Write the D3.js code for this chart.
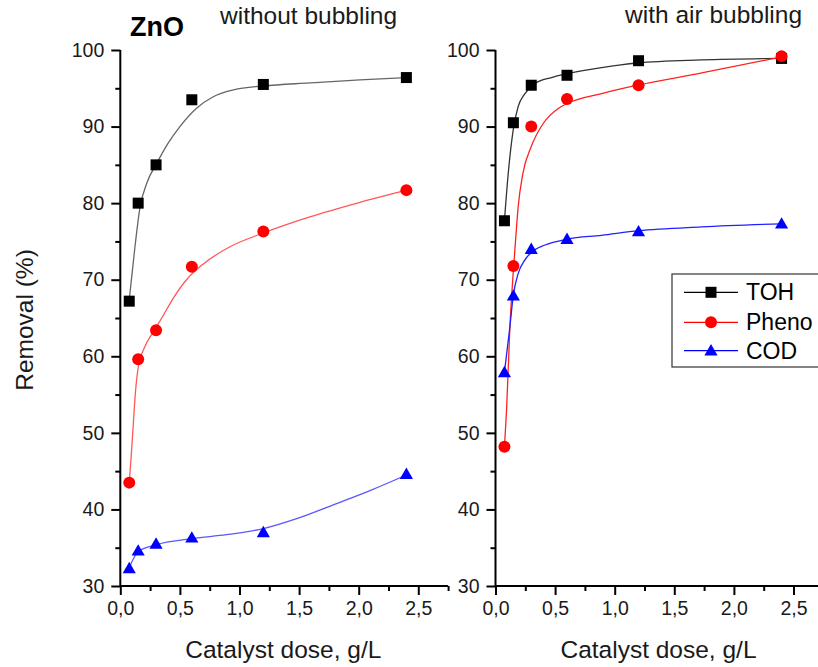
<!DOCTYPE html>
<html><head><meta charset="utf-8">
<script src="https://cdn.jsdelivr.net/npm/d3@7"></script>
<style>body{margin:0;background:#fff}svg{display:block;font-family:"Liberation Sans",Arial,sans-serif}</style>
</head><body><div id="c"></div>
<script>
const doses = [0.075, 0.15, 0.3, 0.6, 1.2, 2.4];
const tohNoBubble = [67.2, 80.0, 85.0, 93.5, 95.5, 96.4];
const phenoNoBubble = [43.5, 59.6, 63.4, 71.7, 76.3, 81.7];
const codNoBubble = [32.3, 34.6, 35.5, 36.3, 37.0, 44.6];
const tohAir = [77.7, 90.5, 95.4, 96.7, 98.6, 98.9];
const phenoAir = [48.2, 71.8, 90.0, 93.6, 95.4, 99.2];
const codAir = [57.9, 67.9, 74.0, 75.3, 76.3, 77.3];

// fitted curves: [dose, removal]
const fitTohNoBubble = [[0.075,67.4],[0.123,74.3],[0.166,79.5],[0.222,82.6],[0.306,85.2],[0.40,87.8],[0.50,90.0],[0.64,92.4],[0.78,93.9],[0.95,94.8],[1.20,95.3],[1.59,95.7],[2.01,96.1],[2.4,96.4]];
const fitPhenoNoBubble = [[0.075,43.5],[0.087,46.0],[0.104,49.9],[0.124,54.7],[0.151,58.6],[0.208,61.3],[0.277,63.2],[0.348,65.0],[0.445,67.6],[0.55,69.9],[0.70,72.1],[0.92,74.3],[1.20,76.1],[1.59,78.2],[2.01,80.1],[2.4,81.7]];
const fitCodNoBubble = [[0.075,32.4],[0.151,34.5],[0.306,35.4],[0.61,36.2],[0.89,36.7],[1.20,37.5],[1.48,38.8],[1.82,40.8],[2.10,42.5],[2.4,44.5]];
const fitTohAir = [[0.075,77.7],[0.107,83.9],[0.149,89.6],[0.19,92.6],[0.247,94.3],[0.33,95.6],[0.47,96.4],[0.6,96.9],[0.89,97.7],[1.19,98.3],[1.73,98.7],[2.4,98.9]];
const fitPhenoAir = [[0.075,48.2],[0.094,53.4],[0.121,63.9],[0.149,71.0],[0.17,75.5],[0.19,79.5],[0.23,83.9],[0.30,87.4],[0.40,90.4],[0.53,92.4],[0.60,93.0],[0.89,94.3],[1.19,95.4],[1.73,97.0],[2.4,99.1]];
const fitCodAir = [[0.075,57.9],[0.121,63.9],[0.15,68.0],[0.19,70.8],[0.247,72.6],[0.33,73.9],[0.41,74.5],[0.6,75.3],[0.89,75.8],[1.2,76.4],[1.73,76.9],[2.4,77.3]];

const xTicks = [0, 0.5, 1.0, 1.5, 2.0, 2.5];
const yTicks = [30, 40, 50, 60, 70, 80, 90, 100];
const seriesNames = ["TOH", "Pheno", "COD"];
const seriesColors = ["#000000", "#ff0000", "#0000ff"];
const lineColors = ["#333333", "#ff2020", "#2020ff"];
const panelTitles = ["without bubbling", "with air bubbling"];

const W = 818, H = 667;
const svg = d3.select("#c").append("svg").attr("width", W).attr("height", H);
const y = d3.scaleLinear().domain([30, 100]).range([586, 50]);

const panels = [
  {x0: 120.3, vals: [tohNoBubble, phenoNoBubble, codNoBubble], fits: [fitTohNoBubble, fitPhenoNoBubble, fitCodNoBubble], lineOpacity: 0.75},
  {x0: 495.5, vals: [tohAir, phenoAir, codAir], fits: [fitTohAir, fitPhenoAir, fitCodAir], lineOpacity: 1}
];

const fmt = d => d3.format(".1f")(d).replace(".", ",");

function marker(g, type, cx, cy, color) {
  if (type === 0) {
    g.append("rect").attr("x", cx - 5.5).attr("y", cy - 5.5).attr("width", 11).attr("height", 11).attr("fill", color);
  } else if (type === 1) {
    g.append("circle").attr("cx", cx).attr("cy", cy).attr("r", 6).attr("fill", color);
  } else {
    const s = d3.symbol().type(d3.symbolTriangle).size(75);
    g.append("path").attr("d", s()).attr("transform", `translate(${cx},${cy + 1})`).attr("fill", color);
  }
}

panels.forEach((p, pi) => {
  const x = d3.scaleLinear().domain([0, 2.75]).range([p.x0, p.x0 + 2.75 * 119.2]);
  const g = svg.append("g");

  // axes
  const xAxis = d3.axisBottom(x).tickValues(xTicks).tickFormat(fmt).tickSize(9).tickPadding(6);
  const xg = g.append("g").attr("transform", `translate(0,${y(30)})`).call(xAxis);
  const xMinor = d3.axisBottom(x).tickValues(d3.range(0.25, 2.76, 0.5)).tickFormat("").tickSize(5);
  g.append("g").attr("transform", `translate(0,${y(30)})`).call(xMinor).select(".domain").remove();

  const yAxis = d3.axisLeft(y).tickValues(yTicks).tickSize(9).tickPadding(7);
  const yg = g.append("g").attr("transform", `translate(${x(0)},0)`).call(yAxis);
  const yMinor = d3.axisLeft(y).tickValues(d3.range(35, 100, 10)).tickFormat("").tickSize(5);
  g.append("g").attr("transform", `translate(${x(0)},0)`).call(yMinor).select(".domain").remove();

  g.selectAll(".domain").attr("stroke", "#000").attr("stroke-width", 2);
  g.selectAll(".tick line").attr("stroke", "#000").attr("stroke-width", 2);
  g.selectAll(".tick text").attr("font-size", 19.5).attr("fill", "#1a1a1a").attr("font-family", "Liberation Sans, Arial, sans-serif");
  xg.select(".domain").attr("d", `M${x(0)},0H${x(2.75)}`);
  yg.select(".domain").attr("d", `M0,${y(100)}V${y(30)}`);

  // axis title
  g.append("text").attr("x", (x(0) + x(2.5)) / 2 + 14).attr("y", 658).attr("text-anchor", "middle")
    .attr("font-size", 24.5).attr("fill", "#1a1a1a").text("Catalyst dose, g/L");

  // fitted curves
  const line = d3.line().x(d => x(d[0])).y(d => y(d[1])).curve(d3.curveMonotoneX);
  p.fits.forEach((f, si) => {
    g.append("path").attr("d", line(f)).attr("fill", "none")
      .attr("stroke", lineColors[si]).attr("stroke-width", 1.3).attr("stroke-opacity", p.lineOpacity);
  });

  // markers
  p.vals.forEach((vals, si) => {
    vals.forEach((v, i) => marker(g, si, x(doses[i]), y(v), seriesColors[si]));
  });
});

// panel titles
svg.append("text").attr("x", 130).attr("y", 36).attr("font-size", 27).attr("font-weight", "bold").text("ZnO");
svg.append("text").attr("x", 220).attr("y", 24).attr("font-size", 24.5).attr("fill", "#1a1a1a").text(panelTitles[0]);
svg.append("text").attr("x", 625).attr("y", 23).attr("font-size", 24.5).attr("fill", "#1a1a1a").text(panelTitles[1]);

// y title
svg.append("text").attr("transform", "translate(33,320) rotate(-90)").attr("text-anchor", "middle")
  .attr("font-size", 24.5).attr("fill", "#1a1a1a").text("Removal (%)");

// legend
const lg = svg.append("g");
lg.append("rect").attr("x", 672).attr("y", 274).attr("width", 170).attr("height", 93)
  .attr("fill", "#fff").attr("stroke", "#333").attr("stroke-width", 1.2);
const legY = [292.3, 322.3, 350.7];
seriesNames.forEach((n, i) => {
  lg.append("line").attr("x1", 684).attr("x2", 738).attr("y1", legY[i]).attr("y2", legY[i])
    .attr("stroke", seriesColors[i]).attr("stroke-width", 1.2);
  marker(lg, i, 711, legY[i], seriesColors[i]);
  lg.append("text").attr("x", 746).attr("y", legY[i] + 8).attr("font-size", 23).attr("fill", "#000").text(n);
});
</script></body></html>
